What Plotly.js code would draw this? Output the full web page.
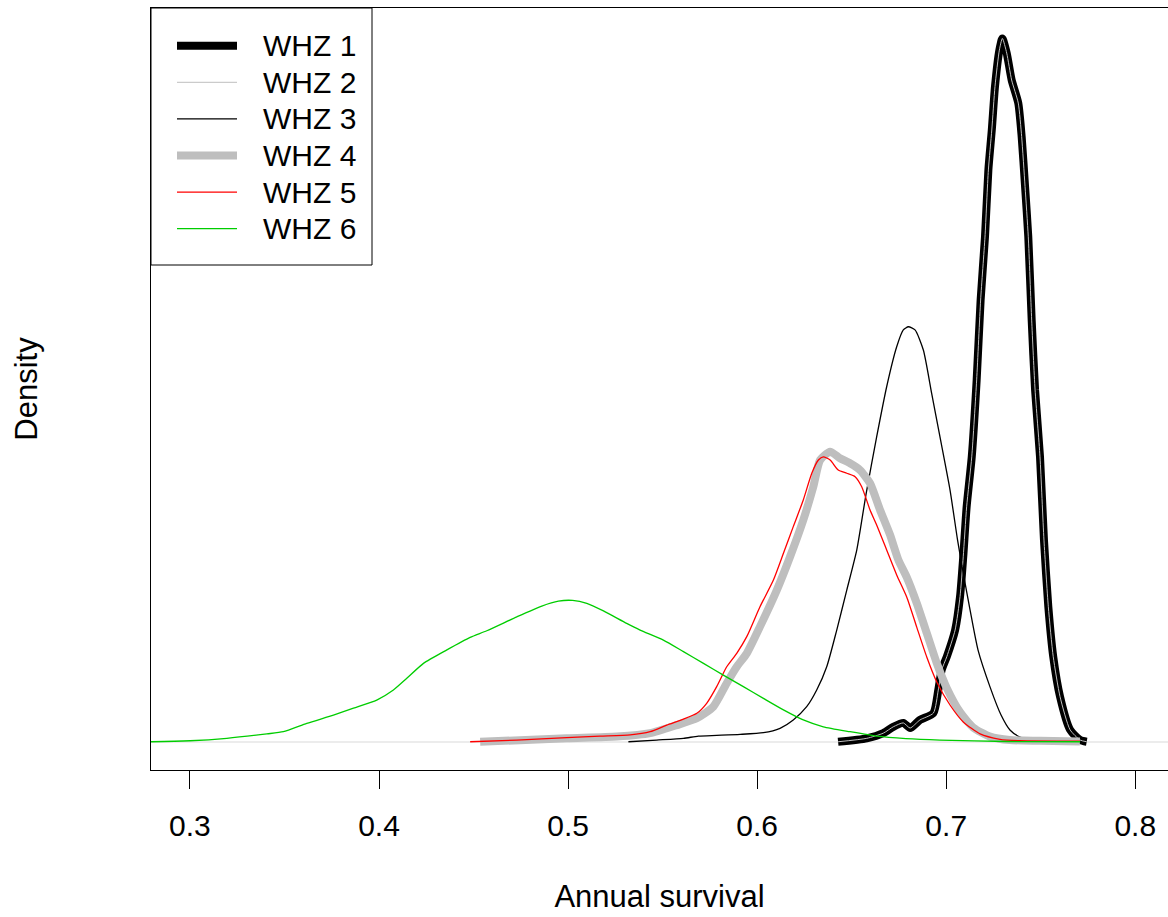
<!DOCTYPE html>
<html>
<head>
<meta charset="utf-8">
<script src="https://cdn.plot.ly/plotly-3.0.1.min.js"></script>
<style>html,body{margin:0;padding:0;background:#fff;}#chart{width:1168px;height:917px;}</style>
</head>
<body>
<div id="chart"></div>
<script>
// Annual survival (x) and density (y)
var whz1_x = [0.6428, 0.6580, 0.6667, 0.6720, 0.6773, 0.6809, 0.6861, 0.6932, 0.6958, 0.6976, 0.7003, 0.7047, 0.7073, 0.7090, 0.7108, 0.7135, 0.7161, 0.7182, 0.7205, 0.7223, 0.7241, 0.7258, 0.7281, 0.7297, 0.7320, 0.7346, 0.7381, 0.7399, 0.7417, 0.7434, 0.7452, 0.7470, 0.7496, 0.7517, 0.7540, 0.7566, 0.7602, 0.7655, 0.7708, 0.7743];
var whz1_y = [0.01, 0.15, 0.36, 0.62, 0.78, 0.57, 0.90, 1.18, 2.12, 2.94, 3.48, 4.57, 5.93, 7.56, 9.60, 11.64, 14.78, 18.04, 20.61, 23.35, 24.98, 26.76, 28.24, 28.72, 28.12, 27.02, 26.08, 24.71, 22.67, 20.62, 17.22, 14.37, 11.64, 8.24, 5.52, 3.48, 1.85, 0.50, 0.08, 0.01];

// WHZ 2 is drawn on the same path as WHZ 1
var whz2_x = whz1_x.slice();
var whz2_y = whz1_y.slice();

var whz3_x = [0.5319, 0.5469, 0.5610, 0.5689, 0.5786, 0.5910, 0.6033, 0.6121, 0.6191, 0.6262, 0.6315, 0.6368, 0.6421, 0.6474, 0.6527, 0.6576, 0.6632, 0.6685, 0.6738, 0.6773, 0.6800, 0.6835, 0.6879, 0.6923, 0.6967, 0.7020, 0.7060, 0.7090, 0.7126, 0.7168, 0.7232, 0.7290, 0.7337, 0.7390, 0.7443];
var whz3_y = [0.01, 0.08, 0.15, 0.24, 0.27, 0.31, 0.38, 0.56, 0.90, 1.44, 2.12, 3.07, 4.57, 6.20, 7.84, 10.12, 12.45, 14.50, 16.13, 16.82, 16.95, 16.82, 16.00, 14.23, 12.45, 10.29, 8.24, 6.89, 5.39, 3.76, 2.24, 1.10, 0.49, 0.20, 0.08];

var whz4_x = [0.4535, 0.4993, 0.5258, 0.5434, 0.5575, 0.5681, 0.5768, 0.5839, 0.5892, 0.5945, 0.6015, 0.6104, 0.6174, 0.6244, 0.6297, 0.6333, 0.6386, 0.6438, 0.6491, 0.6544, 0.6597, 0.6650, 0.6703, 0.6747, 0.6791, 0.6844, 0.6897, 0.6950, 0.7003, 0.7073, 0.7143, 0.7232, 0.7337, 0.7496, 0.7707];
var whz4_y = [0.01, 0.15, 0.22, 0.36, 0.69, 0.97, 1.44, 2.40, 3.07, 3.62, 4.71, 6.20, 7.56, 9.06, 10.42, 11.51, 11.85, 11.58, 11.38, 11.10, 10.56, 9.47, 8.45, 7.43, 6.73, 5.67, 4.45, 3.22, 2.20, 1.22, 0.59, 0.22, 0.08, 0.05, 0.02];

var whz5_x = [0.4482, 0.4729, 0.4993, 0.5169, 0.5328, 0.5434, 0.5522, 0.5610, 0.5681, 0.5733, 0.5786, 0.5839, 0.5892, 0.5945, 0.6015, 0.6086, 0.6139, 0.6191, 0.6244, 0.6289, 0.6324, 0.6350, 0.6386, 0.6429, 0.6474, 0.6518, 0.6553, 0.6597, 0.6632, 0.6685, 0.6738, 0.6791, 0.6844, 0.6897, 0.6950, 0.7020, 0.7090, 0.7179, 0.7284, 0.7390, 0.7707];
var whz5_y = [0.01, 0.08, 0.18, 0.24, 0.29, 0.42, 0.69, 0.93, 1.17, 1.58, 2.26, 3.07, 3.62, 4.30, 5.52, 6.61, 7.70, 8.79, 9.88, 10.97, 11.51, 11.64, 11.51, 11.10, 10.97, 10.83, 10.42, 9.47, 8.86, 7.84, 6.82, 5.92, 4.69, 3.47, 2.45, 1.51, 0.82, 0.33, 0.11, 0.05, 0.03];

var whz6_x = [0.2600, 0.2799, 0.3001, 0.3195, 0.3407, 0.3494, 0.3618, 0.3759, 0.3865, 0.3988, 0.4076, 0.4147, 0.4235, 0.4359, 0.4482, 0.4570, 0.4729, 0.4861, 0.4949, 0.5024, 0.5099, 0.5187, 0.5310, 0.5381, 0.5504, 0.5610, 0.5716, 0.5821, 0.5927, 0.6033, 0.6139, 0.6244, 0.6350, 0.6491, 0.6632, 0.6787, 0.6967, 0.7320, 0.7708];
var whz6_y = [0.00, 0.01, 0.05, 0.15, 0.33, 0.42, 0.76, 1.10, 1.38, 1.71, 2.12, 2.60, 3.21, 3.76, 4.27, 4.54, 5.11, 5.55, 5.75, 5.78, 5.66, 5.35, 4.84, 4.57, 4.16, 3.69, 3.21, 2.73, 2.26, 1.78, 1.31, 0.90, 0.62, 0.42, 0.24, 0.14, 0.08, 0.02, 0.01];

var seriesNames = ["WHZ 1", "WHZ 2", "WHZ 3", "WHZ 4", "WHZ 5", "WHZ 6"];
var seriesColors = ["#000000", "#bebebe", "#000000", "#bebebe", "#ff0000", "#00cd00"];
var seriesWidths = [8, 1, 1.3, 8, 1.3, 1.3];
var xTicks = [0.3, 0.4, 0.5, 0.6, 0.7, 0.8];
var xTickLabels = ["0.3", "0.4", "0.5", "0.6", "0.7", "0.8"];

var FONT = "Liberation Sans, Arial, sans-serif";
var W = 1168, H = 917, ML = 151, MR = 0, MT = 8, MB = 147;
var PW = W - ML - MR, PH = H - MT - MB;
function px2x(p) { return (p - ML) / PW; }
function px2y(p) { return (H - MB - p) / PH; }

var xs = [whz1_x, whz2_x, whz3_x, whz4_x, whz5_x, whz6_x];
var ys = [whz1_y, whz2_y, whz3_y, whz4_y, whz5_y, whz6_y];

var data = seriesNames.map(function (n, i) {
  return {
    type: "scatter", mode: "lines", name: n, x: xs[i], y: ys[i],
    line: {color: seriesColors[i], width: seriesWidths[i], shape: "spline", smoothing: 0.6},
    hoverinfo: "skip", showlegend: false
  };
});

// legend box drawn in the style of base R graphics
var shapes = [
  {type: "line", xref: "paper", yref: "y", x0: 0, x1: 1, y0: 0, y1: 0,
   line: {color: "#d9d9d9", width: 1}, layer: "below"},
  {type: "rect", xref: "paper", yref: "paper", x0: px2x(151), x1: px2x(372), y0: px2y(265), y1: px2y(8),
   line: {color: "#000000", width: 1}, fillcolor: "#ffffff", layer: "above"}
];
var annotations = [];
var rowY0 = 45.7, rowStep = 36.6;
seriesNames.forEach(function (n, i) {
  var yy = px2y(rowY0 + i * rowStep);
  shapes.push({type: "line", xref: "paper", yref: "paper", x0: px2x(177), x1: px2x(237), y0: yy, y1: yy,
    line: {color: seriesColors[i], width: seriesWidths[i]}, layer: "above"});
  annotations.push({xref: "paper", yref: "paper", x: px2x(261), y: yy, xanchor: "left", yanchor: "middle",
    text: n, showarrow: false, font: {family: FONT, size: 30, color: "#000000"}});
});

var layout = {
  width: W, height: H,
  margin: {l: ML, r: MR, t: MT, b: MB, pad: 0},
  paper_bgcolor: "#ffffff", plot_bgcolor: "#ffffff",
  font: {family: FONT, size: 30, color: "#000000"},
  showlegend: false,
  xaxis: {
    range: [0.2794, 0.8173],
    tickmode: "array", tickvals: xTicks, ticktext: xTickLabels,
    ticks: "outside", ticklen: 18, tickwidth: 1, tickcolor: "#000000",
    showline: true, linecolor: "#000000", linewidth: 1, mirror: true,
    showgrid: false, zeroline: false, ticklabelstandoff: 11,
    tickfont: {family: FONT, size: 30, color: "#000000"},
    title: {text: "Annual survival", font: {family: FONT, size: 31, color: "#000000"}, standoff: 44}
  },
  yaxis: {
    range: [-1.143, 29.96],
    showticklabels: false, ticks: "",
    showline: true, linecolor: "#000000", linewidth: 1, mirror: false,
    showgrid: false, zeroline: false,
    title: {text: "Density", font: {family: FONT, size: 31, color: "#000000"}, standoff: 103}
  },
  shapes: shapes,
  annotations: annotations
};

Plotly.newPlot("chart", data, layout, {staticPlot: true, displayModeBar: false});
</script>
</body>
</html>
